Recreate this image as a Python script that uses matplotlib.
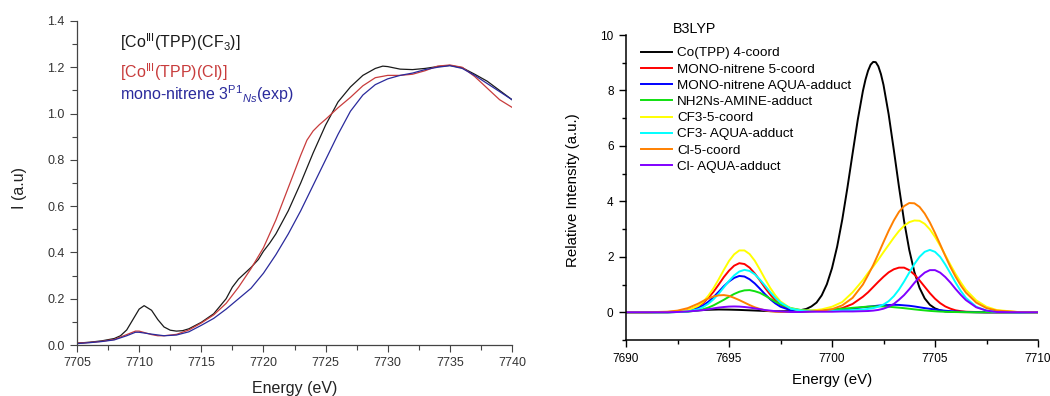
import matplotlib
matplotlib.use("Agg")
import matplotlib.pyplot as plt
from matplotlib.ticker import MultipleLocator

plt.rcParams['font.family'] = ['Liberation Sans', 'DejaVu Sans']
plt.rcParams['mathtext.fontset'] = 'custom'
plt.rcParams['mathtext.rm'] = 'Liberation Sans'
plt.rcParams['mathtext.it'] = 'Liberation Sans:italic'

# ---------------- Left panel: experimental XANES ----------------
E_cf3 = [7705, 7706, 7707, 7708, 7708.5, 7709, 7709.5, 7710, 7710.4, 7711, 7711.5,
         7712, 7712.5, 7713, 7713.5, 7714, 7715, 7716, 7717, 7717.5, 7718, 7718.5,
         7719, 7719.6, 7720, 7720.5, 7721, 7722, 7723, 7724, 7725, 7726,
         7727, 7728, 7729, 7729.6, 7730, 7731, 7732, 7733, 7734, 7735, 7736, 7737,
         7738, 7739, 7740]
I_cf3 = [0.008, 0.012, 0.018, 0.028, 0.04, 0.065, 0.11, 0.155, 0.17, 0.15, 0.11,
         0.078, 0.064, 0.06, 0.062, 0.07, 0.098, 0.135, 0.20, 0.25, 0.285, 0.31,
         0.335, 0.37, 0.405, 0.44, 0.48, 0.58, 0.70, 0.83, 0.95, 1.05,
         1.115, 1.165, 1.195, 1.205, 1.203, 1.192, 1.19, 1.195, 1.203, 1.208, 1.198, 1.17,
         1.14, 1.10, 1.06]

E_cl = [7705, 7706, 7707, 7708, 7709, 7709.7, 7710, 7711, 7711.5, 7712, 7713, 7714,
        7715, 7716, 7717, 7718, 7719, 7720, 7721, 7722, 7723,
        7723.5, 7724, 7724.5, 7725, 7725.6, 7726, 7727, 7728, 7729, 7730, 7731,
        7732, 7733, 7734, 7735, 7736, 7737, 7738, 7739, 7740]
I_cl = [0.008, 0.011, 0.016, 0.024, 0.045, 0.06, 0.06, 0.045, 0.04, 0.04, 0.046, 0.065,
        0.095, 0.13, 0.18, 0.25, 0.33, 0.42, 0.54, 0.68, 0.82,
        0.885, 0.925, 0.952, 0.975, 1.005, 1.025, 1.07, 1.12, 1.155, 1.165, 1.165,
        1.17, 1.185, 1.205, 1.21, 1.2, 1.16, 1.11, 1.06, 1.027]

E_mono = [7705, 7706, 7707, 7708, 7709, 7709.7, 7710, 7711, 7712, 7713, 7714, 7715,
          7716, 7717, 7718, 7719, 7720, 7721, 7722, 7723, 7724, 7725, 7726,
          7727, 7728, 7729, 7730, 7731, 7732, 7733, 7734, 7735, 7736, 7737, 7738,
          7739, 7740]
I_mono = [0.006, 0.01, 0.015, 0.022, 0.04, 0.055, 0.055, 0.047, 0.04, 0.043, 0.057, 0.085,
          0.115, 0.155, 0.2, 0.245, 0.31, 0.39, 0.48, 0.58, 0.69, 0.80, 0.91,
          1.01, 1.08, 1.125, 1.15, 1.165, 1.175, 1.19, 1.2, 1.207, 1.195, 1.165, 1.13,
          1.095, 1.06]

exp_labels = [r"[Co$^{\mathrm{III}}$(TPP)(CF$_{\mathrm{3}}$)]",
              r"[Co$^{\mathrm{III}}$(TPP)(Cl)]",
              r"mono-nitrene 3$^{\mathrm{P1}}$$_{\mathit{Ns}}$(exp)"]
exp_colors = ['#1a1a1a', '#c83c3c', '#2a2a9c']

# ---------------- Right panel: B3LYP calculated spectra ----------------
E_calc = [7690, 7691, 7692, 7692.5, 7693, 7693.5, 7693.75, 7694, 7694.25, 7694.5,
          7694.75, 7695, 7695.25, 7695.5, 7695.75, 7696, 7696.25, 7696.5, 7696.75,
          7697, 7697.25, 7697.5, 7698, 7698.5, 7699, 7699.5, 7700, 7700.5, 7701,
          7701.5, 7701.75, 7702, 7702.25, 7702.5, 7702.75, 7703, 7703.25, 7703.5,
          7703.75, 7704, 7704.25, 7704.5, 7704.75, 7705, 7705.25, 7705.5, 7705.75,
          7706, 7706.25, 7706.5, 7707, 7707.5, 7708, 7709, 7710]

E_coTPP = [7690, 7691, 7692, 7692.5, 7693, 7693.5, 7694, 7694.5, 7695, 7695.5, 7696,
           7696.5, 7697, 7697.5, 7698, 7698.25, 7698.5, 7698.75, 7699, 7699.25,
           7699.5, 7699.75, 7700, 7700.25, 7700.5, 7700.75, 7701, 7701.25, 7701.5,
           7701.625, 7701.75, 7701.875, 7702, 7702.125, 7702.25, 7702.375, 7702.5,
           7702.75, 7703, 7703.25, 7703.5, 7703.75, 7704, 7704.25, 7704.5, 7704.75,
           7705, 7705.25, 7705.5, 7706, 7707, 7708, 7710]
I_coTPP = [0.0, 0.0, 0.01, 0.02, 0.04, 0.07, 0.09, 0.10, 0.095, 0.085, 0.07,
           0.055, 0.04, 0.035, 0.04, 0.05, 0.08, 0.12, 0.21, 0.35,
           0.61, 1.01, 1.59, 2.37, 3.35, 4.50, 5.73, 6.94, 7.98,
           8.39, 8.71, 8.93, 9.03, 9.02, 8.87, 8.59, 8.20,
           7.14, 5.86, 4.53, 3.29, 2.25, 1.45, 0.88, 0.50, 0.27,
           0.14, 0.07, 0.03, 0.01, 0.0, 0.0, 0.0]

I_mono5 = [0.0, 0.0, 0.0, 0.02, 0.07, 0.21, 0.34, 0.52, 0.74, 1.00,
           1.27, 1.50, 1.68, 1.77, 1.74, 1.61, 1.40, 1.15, 0.88,
           0.64, 0.43, 0.27, 0.09, 0.05, 0.045, 0.06, 0.08, 0.15, 0.30,
           0.56, 0.72, 0.91, 1.10, 1.28, 1.44, 1.55, 1.61, 1.61,
           1.52, 1.36, 1.15, 0.92, 0.69, 0.49, 0.33, 0.21, 0.13,
           0.07, 0.04, 0.02, 0.01, 0.0, 0.0, 0.0, 0.0]
I_monoAqua = [0.0, 0.0, 0.0, 0.01, 0.05, 0.15, 0.25, 0.38, 0.55, 0.74,
              0.94, 1.11, 1.24, 1.31, 1.29, 1.19, 1.04, 0.85, 0.65,
              0.47, 0.32, 0.20, 0.07, 0.05, 0.045, 0.05, 0.07, 0.09, 0.13,
              0.18, 0.20, 0.22, 0.24, 0.255, 0.26, 0.27, 0.265, 0.25,
              0.235, 0.21, 0.18, 0.15, 0.125, 0.10, 0.075, 0.055, 0.04,
              0.03, 0.02, 0.012, 0.005, 0.0, 0.0, 0.0, 0.0]
I_amine = [0.0, 0.0, 0.0, 0.01, 0.02, 0.07, 0.11, 0.17, 0.25, 0.35,
           0.45, 0.56, 0.66, 0.74, 0.79, 0.80, 0.76, 0.70, 0.60,
           0.49, 0.38, 0.29, 0.15, 0.08, 0.06, 0.075, 0.10, 0.125, 0.16,
           0.19, 0.205, 0.21, 0.215, 0.21, 0.20, 0.183, 0.167, 0.148,
           0.127, 0.105, 0.085, 0.067, 0.05, 0.037, 0.026, 0.018, 0.012,
           0.008, 0.005, 0.003, 0.0, 0.0, 0.0, 0.0, 0.0]
I_cf3_5 = [0.0, 0.0, 0.0, 0.02, 0.07, 0.23, 0.38, 0.60, 0.87, 1.19,
           1.53, 1.85, 2.09, 2.23, 2.23, 2.10, 1.86, 1.54, 1.20,
           0.88, 0.61, 0.39, 0.14, 0.06, 0.06, 0.105, 0.20, 0.37, 0.72,
           1.16, 1.42, 1.65, 1.90, 2.17, 2.43, 2.69, 2.93, 3.12,
           3.25, 3.31, 3.30, 3.19, 2.99, 2.72, 2.40, 2.06, 1.71,
           1.38, 1.08, 0.81, 0.43, 0.20, 0.08, 0.01, 0.0]
I_cf3Aqua = [0.0, 0.0, 0.0, 0.01, 0.03, 0.11, 0.19, 0.31, 0.47, 0.67,
             0.90, 1.13, 1.33, 1.47, 1.53, 1.49, 1.37, 1.18, 0.96,
             0.73, 0.52, 0.35, 0.13, 0.06, 0.04, 0.04, 0.05, 0.06, 0.08,
             0.10, 0.12, 0.15, 0.20, 0.28, 0.40, 0.58, 0.82, 1.11,
             1.43, 1.74, 2.0, 2.18, 2.25, 2.18, 2.0, 1.72, 1.40,
             1.07, 0.77, 0.52, 0.20, 0.06, 0.01, 0.0, 0.0]
I_cl5 = [0.0, 0.0, 0.02, 0.06, 0.15, 0.31, 0.41, 0.50, 0.57, 0.61,
         0.62, 0.59, 0.52, 0.44, 0.35, 0.26, 0.18, 0.12, 0.07,
         0.04, 0.02, 0.01, 0.01, 0.01, 0.03, 0.06, 0.11, 0.25, 0.52,
         1.0, 1.34, 1.70, 2.11, 2.53, 2.94, 3.31, 3.62, 3.83,
         3.94, 3.93, 3.80, 3.56, 3.24, 2.86, 2.45, 2.03, 1.63,
         1.28, 0.97, 0.71, 0.35, 0.15, 0.06, 0.01, 0.0]
I_clAqua = [0.0, 0.0, 0.0, 0.01, 0.03, 0.06, 0.08, 0.11, 0.14, 0.17,
            0.19, 0.205, 0.21, 0.205, 0.19, 0.17, 0.14, 0.11, 0.08,
            0.06, 0.04, 0.03, 0.01, 0.01, 0.02, 0.02, 0.02, 0.03, 0.03,
            0.04, 0.045, 0.06, 0.085, 0.13, 0.20, 0.30, 0.45, 0.62,
            0.83, 1.06, 1.27, 1.43, 1.52, 1.52, 1.43, 1.27, 1.07,
            0.84, 0.63, 0.44, 0.18, 0.06, 0.01, 0.0, 0.0]

calc_labels = ["Co(TPP) 4-coord", "MONO-nitrene 5-coord", "MONO-nitrene AQUA-adduct",
               "NH2Ns-AMINE-adduct", "CF3-5-coord", "CF3- AQUA-adduct",
               "Cl-5-coord", "Cl- AQUA-adduct"]
calc_colors = ['#000000', '#ff0000', '#0000ff', '#10e010', '#ffff00', '#00ffff',
               '#ff8000', '#8000ff']

# ---------------- Figure ----------------
W, H = 1050, 396
fig = plt.figure(figsize=(W / 100, H / 100), dpi=100)

# Left axes
axL = fig.add_axes([77 / W, 1 - 345 / H, (512 - 77) / W, (345 - 21) / H])
for E, I, c in zip([E_cf3, E_cl, E_mono], [I_cf3, I_cl, I_mono], exp_colors):
    axL.plot(E, I, color=c, lw=0.9)
axL.set_xlim(7705, 7740)
axL.set_ylim(0, 1.4)
axL.xaxis.set_major_locator(MultipleLocator(5))
axL.xaxis.set_minor_locator(MultipleLocator(2.5))
axL.yaxis.set_major_locator(MultipleLocator(0.2))
axL.yaxis.set_minor_locator(MultipleLocator(0.1))
axL.yaxis.set_major_formatter(plt.FuncFormatter(lambda v, p: f"{v:.1f}"))
for s in ['top', 'right']:
    axL.spines[s].set_visible(False)
for s in ['left', 'bottom']:
    axL.spines[s].set_color('#444444')
    axL.spines[s].set_linewidth(0.9)
axL.tick_params(which='major', direction='out', length=5, width=0.8, color='#444444',
                labelsize=9, labelcolor='#333333', pad=4)
axL.tick_params(which='minor', direction='out', length=3.5, width=0.8, color='#444444')
axL.set_xlabel("Energy (eV)", fontsize=11.5, color='#222222', va='center')
axL.set_ylabel("I (a.u)", fontsize=11.5, color='#222222', va='center')
axL.xaxis.set_label_coords(0.501, -0.133)
axL.yaxis.set_label_coords(-0.132, 0.485)
ann_y = [1.285, 1.152, 1.058]
for lab, c, y in zip(exp_labels, exp_colors, ann_y):
    axL.text(7708.46, y, lab, color=c, fontsize=11.5, va='baseline', ha='left')

# Right axes
axR = fig.add_axes([626 / W, 1 - 340 / H, (1038 - 626) / W, (340 - 35) / H])
calc_series = [I_mono5, I_monoAqua, I_amine, I_cf3_5, I_cf3Aqua, I_cl5, I_clAqua]
axR.plot(E_coTPP, I_coTPP, color=calc_colors[0], lw=1.4, label=calc_labels[0])
for I, c, lab in zip(calc_series, calc_colors[1:], calc_labels[1:]):
    axR.plot(E_calc, I, color=c, lw=1.4, label=lab)
axR.set_xlim(7690, 7710)
axR.set_ylim(-1, 10)
axR.xaxis.set_major_locator(MultipleLocator(5))
axR.xaxis.set_minor_locator(MultipleLocator(2.5))
axR.yaxis.set_major_locator(MultipleLocator(2))
axR.yaxis.set_minor_locator(MultipleLocator(1))
for s in ['top', 'right']:
    axR.spines[s].set_visible(False)
for s in ['left', 'bottom']:
    axR.spines[s].set_linewidth(1.1)
axR.tick_params(which='major', direction='out', length=5, width=1.0, labelsize=8.5, pad=4)
axR.tick_params(which='minor', direction='out', length=3, width=1.0)
axR.set_xlabel("Energy (eV)", fontsize=10.8, va='center')
axR.set_ylabel("Relative Intensity (a.u.)", fontsize=10.8, va='center')
axR.xaxis.set_label_coords(0.5, -0.131)
axR.yaxis.set_label_coords(-0.129, 0.492)
leg = axR.legend(loc='upper left', bbox_to_anchor=(641 / W, 1 - 47 / H),
                 bbox_transform=fig.transFigure, frameon=False, fontsize=9.7,
                 handlelength=2.3, handletextpad=0.4, labelspacing=0.28,
                 borderpad=0, borderaxespad=0)
fig.text(673 / W, 1 - 29 / H, "B3LYP", fontsize=10.3, ha='left', va='center')

fig.savefig("out.png", dpi=100)
